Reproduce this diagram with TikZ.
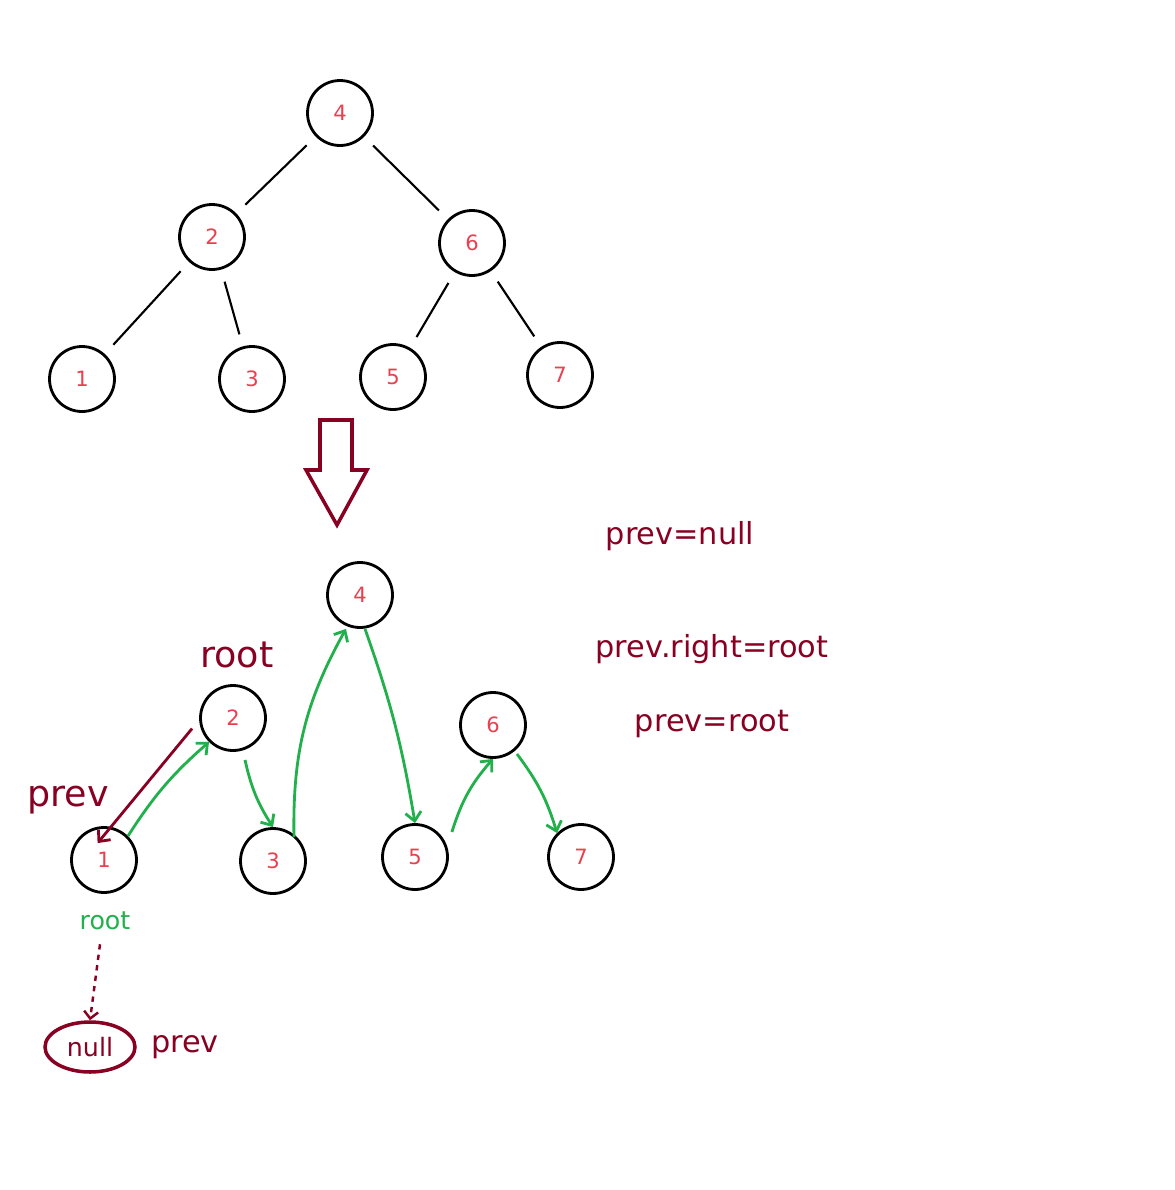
\documentclass[tikz,border=0pt]{standalone}
\usepackage{fontspec}
\setmainfont{DejaVu Sans}
\usetikzlibrary{arrows.meta,shapes.geometric}
\definecolor{wine}{HTML}{880022}
\definecolor{numred}{HTML}{E8404F}
\definecolor{pathgreen}{HTML}{22B04C}
\tikzset{
  tnode/.style={circle,draw,line width=1.6pt,minimum size=1.3cm,inner sep=0pt,text=numred,font=\large},
  tedge/.style={line width=1.2pt,shorten <=0.25cm,shorten >=0.25cm},
  walk/.style={pathgreen,line width=1.6pt,-{Straight Barb[length=5pt,width=9pt]}},
  note/.style={text=wine,font=\LARGE}
}
\begin{document}
\begin{tikzpicture}[x=0.02cm,y=-0.02cm]
  \useasboundingbox (0,0) rectangle (1174,1190);
  % original tree
  \node[tnode] (a4) at (340,113) {4};
  \node[tnode] (a2) at (212,237) {2};
  \node[tnode] (a6) at (472,243) {6};
  \node[tnode] (a1) at (82,379) {1};
  \node[tnode] (a3) at (252,379) {3};
  \node[tnode] (a5) at (393,377) {5};
  \node[tnode] (a7) at (560,375) {7};
  \foreach \p/\c in {a4/a2,a4/a6,a2/a1,a2/a3,a6/a5,a6/a7}
    \draw[tedge] (\p) -- (\c);
  % big arrow
  \draw[wine,line width=2pt,line join=miter] (320,420) -- (352,420) -- (352,470) -- (367,470)
    -- (337,525) -- (306,470) -- (320,470) -- cycle;
  % linked version
  \node[tnode] (b4) at (360,595) {4};
  \node[tnode] (b2) at (233,718) {2};
  \node[tnode] (b6) at (493,725) {6};
  \node[tnode] (b1) at (104,860) {1};
  \node[tnode] (b3) at (273,861) {3};
  \node[tnode] (b5) at (415,857) {5};
  \node[tnode] (b7) at (581,857) {7};
  \draw[walk] (b1.north east) to[bend left=8] (b2.south west);
  \draw[walk] (b2.south) ++(12,8) to[bend right=10] (b3.north);
  \draw[walk] (b3.north east) ++(-3,0) to[bend left=15] ([xshift=-8pt]b4.south);
  \draw[walk] (b4.south) ++(5,0) to[bend left=5] (b5.north);
  \draw[walk] (b5.east) ++(3,-25) to[bend left=12] (b6.south);
  \draw[walk] (b6.south east) ++(0,5) to[bend left=10] (b7.north west);
  \draw[wine,line width=1.6pt,-{Straight Barb[length=5pt,width=9pt]}] ([xshift=-4pt,yshift=-6pt]b2.west) -- ([xshift=10pt,yshift=-4pt]b1.north west);
  \node[note,font=\huge] (lroot) at (237,655) {root};
  \node[note,font=\huge] (lprev) at (68,800) {prev};
  \node[text=pathgreen,font=\Large] (groot) at (105,921) {root};
  \node[ellipse,draw=wine,line width=2pt,minimum width=1.8cm,minimum height=1.0cm,text=wine,font=\Large] (nul) at (90,1047) {null};
  \node[note] (nprev) at (185,1047) {prev};
  \draw[wine,line width=1.4pt,dashed,-{Straight Barb[length=4pt,width=8pt]}] (groot.south) ++(-5,8) -- (nul.north);
  % notes
  \node[note] (n1) at (680,536) {prev=null};
  \node[note] (n2) at (712,649) {prev.right=root};
  \node[note] (n3) at (712,724) {prev=root};
\end{tikzpicture}
\end{document}
